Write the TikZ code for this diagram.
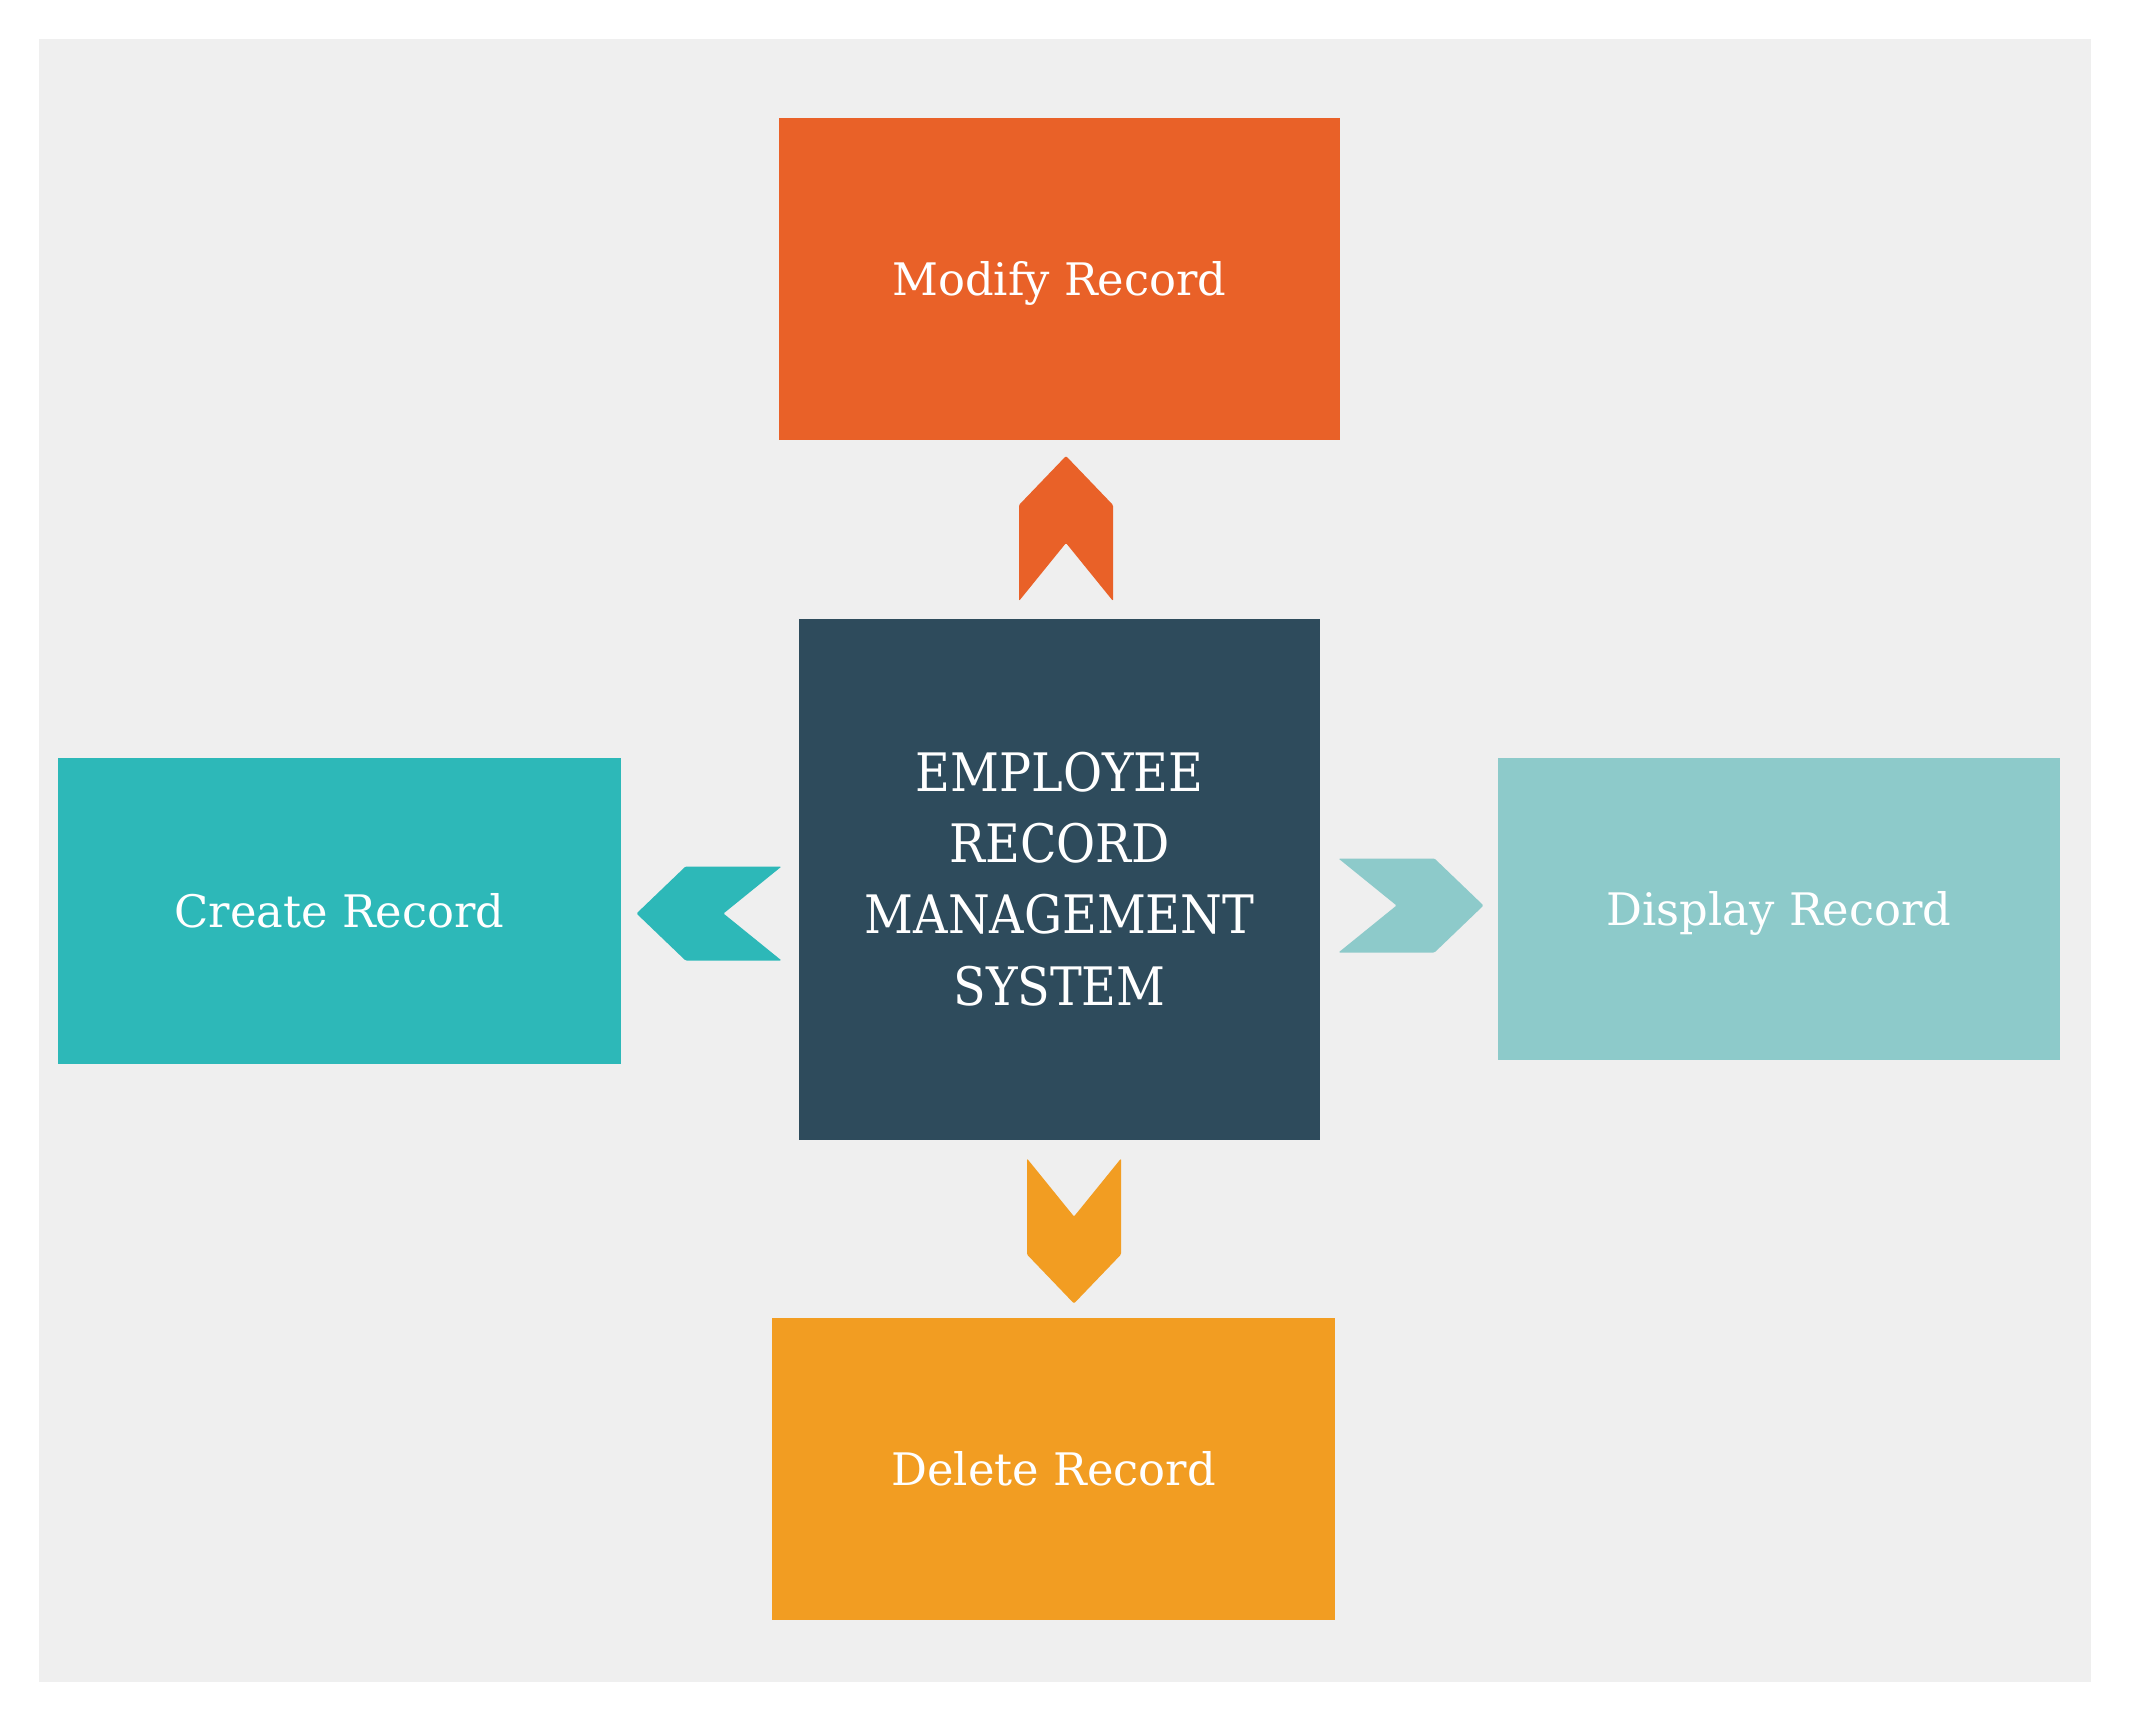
\documentclass[tikz,border=0pt]{standalone}
\usepackage{fontspec}
\setmainfont{DejaVu Serif}
\newfontfamily\condensedfont{DejaVu Serif Condensed}
\usetikzlibrary{positioning}

\definecolor{bgGrey}{HTML}{EFEFEF}
\definecolor{modifyOrange}{HTML}{E96128}
\definecolor{systemBlue}{HTML}{2E4B5C}
\definecolor{createTeal}{HTML}{2DB8B8}
\definecolor{displayTeal}{HTML}{8DCACA}
\definecolor{deleteAmber}{HTML}{F29D22}

\begin{document}
\begin{tikzpicture}[x=0.5pt,y=-0.5pt,
  box/.style={rectangle,inner sep=0pt,text=white,align=center},
  label box/.style={box,text height=16.3pt,text depth=0pt,
    font=\fontsize{22.4}{30}\selectfont},
  chevron/.pic={
    \fill[pic actions,rounded corners=0.6pt] (0,-72.5) -- (47,-23.5) -- (47,72.5)
      -- (0,14.5) -- (-47,72.5) -- (-47,-23.5) -- cycle;
  }]

% BACKGROUND
\useasboundingbox (0,0) rectangle (2131,1722);
\fill[bgGrey] (39,39) rectangle (2091,1682);

% BOXES
% central system
\node[box,fill=systemBlue,minimum width=260.5pt,minimum height=260.5pt,
  font=\condensedfont\fontsize{26.5}{35.7}\selectfont]
  (system) at (1059.5,879) {EMPLOYEE\\RECORD\\MANAGEMENT\\SYSTEM};
% actions
\node[label box,fill=modifyOrange,minimum width=280.5pt,minimum height=161pt]
  (modify) at (1059.5,279) {Modify Record};
\node[label box,fill=createTeal,minimum width=281.5pt,minimum height=153pt]
  (create) at (339.5,911) {Create Record};
\node[label box,fill=displayTeal,minimum width=281pt,minimum height=151pt]
  (display) at (1779,909) {Display Record};
\node[label box,fill=deleteAmber,minimum width=281.5pt,minimum height=151pt]
  (delete) at (1053.5,1469) {Delete Record};

% CHEVRONS
\coordinate (toModify) at (1066,528.5);
\coordinate (toCreate) at (709,913.5);
\coordinate (toDisplay) at (1411,905.5);
\coordinate (toDelete) at (1074,1231);

\pic[fill=modifyOrange] at (toModify) {chevron};
\pic[fill=createTeal,rotate=90] at (toCreate) {chevron};
\pic[fill=displayTeal,rotate=-90] at (toDisplay) {chevron};
\pic[fill=deleteAmber,rotate=180] at (toDelete) {chevron};

\end{tikzpicture}
\end{document}
